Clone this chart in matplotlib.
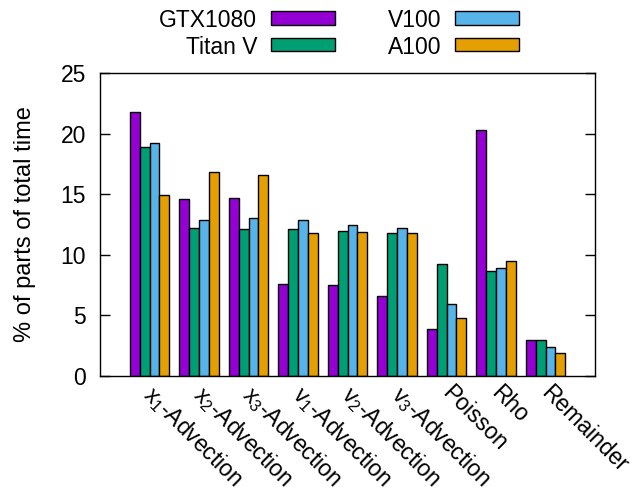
import matplotlib
matplotlib.use("Agg")
import matplotlib.pyplot as plt
import numpy as np
from matplotlib.patches import Rectangle
from matplotlib.transforms import ScaledTranslation

plt.rcParams['font.family'] = ['Liberation Sans', 'DejaVu Sans']
plt.rcParams['mathtext.default'] = 'regular'

categories = ['x$_1$-Advection', 'x$_2$-Advection', 'x$_3$-Advection',
              'v$_1$-Advection', 'v$_2$-Advection', 'v$_3$-Advection',
              'Poisson', 'Rho', 'Remainder']
series_names = ['GTX1080', 'Titan V', 'V100', 'A100']
gtx1080 = [21.8, 14.6, 14.7, 7.6, 7.5, 6.6, 3.9, 20.3, 3.0]
titanv = [18.9, 12.2, 12.1, 12.1, 12.0, 11.8, 9.2, 8.7, 3.0]
v100 = [19.2, 12.9, 13.0, 12.9, 12.5, 12.2, 5.9, 8.9, 2.4]
a100 = [14.9, 16.8, 16.6, 11.8, 11.9, 11.8, 4.8, 9.5, 1.9]
colors = ['#9400d3', '#009e73', '#56b4e9', '#e69f00']

W, H = 640, 496
fig = plt.figure(figsize=(W/100, H/100), dpi=100)
ax = fig.add_axes([100/W, 1-376/H, 495/W, 303/H])

x = np.arange(len(categories))
w = 0.2
data = [gtx1080, titanv, v100, a100]
for i, (vals, c) in enumerate(zip(data, colors)):
    ax.bar(x + (i - 1.5) * w, vals, width=w, color=c, edgecolor='black', linewidth=1.0)

ax.set_xlim(-1, 9)
ax.set_ylim(0, 25)
ax.set_yticks([0, 5, 10, 15, 20, 25])
ax.tick_params(axis='y', direction='in', length=7, width=1, labelsize=16.5, right=True, pad=10)
ax.set_xticks(x)
ax.set_xticklabels(categories, rotation=-45, ha='left', va='top', rotation_mode='anchor', fontsize=16.5)
ax.tick_params(axis='x', length=0, pad=4)
offset = ScaledTranslation(7/100, 0, fig.dpi_scale_trans)
for lbl in ax.get_xticklabels():
    lbl.set_transform(lbl.get_transform() + offset)
for s in ax.spines.values():
    s.set_linewidth(1.0)
ax.set_ylabel('% of parts of total time', fontsize=17)
ax.yaxis.set_label_coords(36/W, 1 - 224.5/H, transform=fig.transFigure)

# legend (manual, gnuplot-like: text right-aligned, then box)
leg_pos = [(257, 18), (257, 44.5), (441, 18), (441, 44.5)]
for name, c, (tx, ty) in zip(series_names, colors, leg_pos):
    fig.text(tx/W, 1-ty/H, name, ha='right', va='center_baseline', fontsize=16.5)
    fig.add_artist(Rectangle(((tx+13.5)/W, 1-(ty+6.5)/H), 64/W, 13/H,
                             transform=fig.transFigure, facecolor=c,
                             edgecolor='black', linewidth=1.0))

fig.savefig('out.png', dpi=100)
